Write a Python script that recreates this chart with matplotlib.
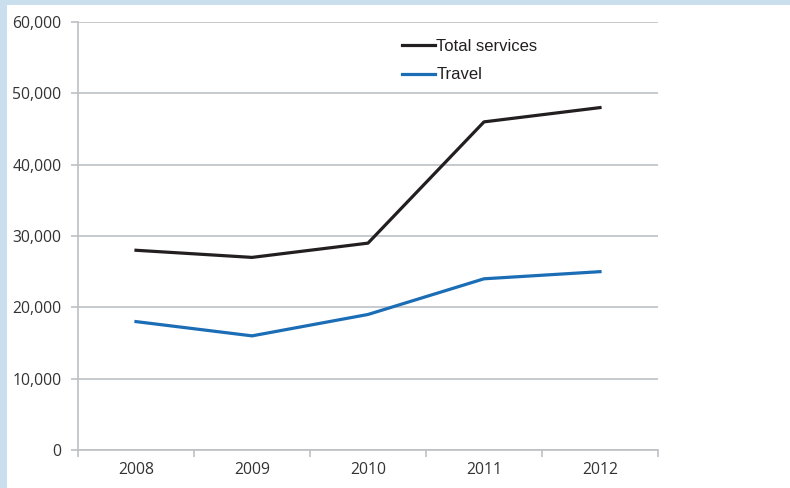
import matplotlib.pyplot as plt
from matplotlib.patches import Rectangle
import numpy as np

years = ['2008', '2009', '2010', '2011', '2012']
total_services = [28000, 27000, 29000, 46000, 48000]
travel = [18000, 16000, 19000, 24000, 25000]
yticks = [0, 10000, 20000, 30000, 40000, 50000, 60000]

W, H = 790, 488
fig = plt.figure(figsize=(W / 100, H / 100), dpi=100, facecolor='white')
# light blue frame on the left and top
border = '#C9DFED'
fig.patches.append(Rectangle((0, 0), 7 / W, 1, transform=fig.transFigure,
                             facecolor=border, edgecolor='none', zorder=-10))
fig.patches.append(Rectangle((0, 1 - 5 / H), 1, 5 / H, transform=fig.transFigure,
                             facecolor=border, edgecolor='none', zorder=-10))

ax = fig.add_axes([78 / W, 1 - 450 / H, 580 / W, 428 / H])
ax.set_facecolor('white')

x = np.arange(len(years))
ax.plot(x, total_services, color='#231F20', lw=2.3, label='Total services', zorder=3)
ax.plot(x, travel, color='#1B6DB6', lw=2.3, label='Travel', zorder=3)

ax.set_xlim(-0.5, len(years) - 0.5)
ax.set_ylim(0, 60000)
ax.set_yticks(yticks)
ax.set_yticklabels([f'{v:,}' for v in yticks])
ax.yaxis.grid(True, color='#BEC1C4', lw=1.2)
ax.set_axisbelow(True)

ax.set_xticks(x)
ax.set_xticklabels(years)
ax.set_xticks(np.arange(len(years) + 1) - 0.5, minor=True)
ax.tick_params(axis='x', which='major', length=0, pad=9)
ax.tick_params(axis='x', which='minor', length=5, color='#BEC1C4', width=1.2)
ax.tick_params(axis='y', length=5, color='#BEC1C4', width=1.2, pad=7)
for lab in ax.get_xticklabels() + ax.get_yticklabels():
    lab.set_fontfamily('Open Sans')
    lab.set_fontsize(11.3)
    lab.set_color('#333333')

for s in ['top', 'right']:
    ax.spines[s].set_visible(False)
for s in ['left', 'bottom']:
    ax.spines[s].set_color('#BEC1C4')
    ax.spines[s].set_linewidth(1.2)

leg = ax.legend(loc='upper left', bbox_to_anchor=(0.533, 0.995), frameon=False,
                handlelength=2.0, handletextpad=0.05, labelspacing=0.8,
                prop={'family': 'Liberation Sans', 'size': 12})
for t in leg.get_texts():
    t.set_color('#231F20')

fig.savefig('out.png', dpi=100, facecolor=fig.get_facecolor())
